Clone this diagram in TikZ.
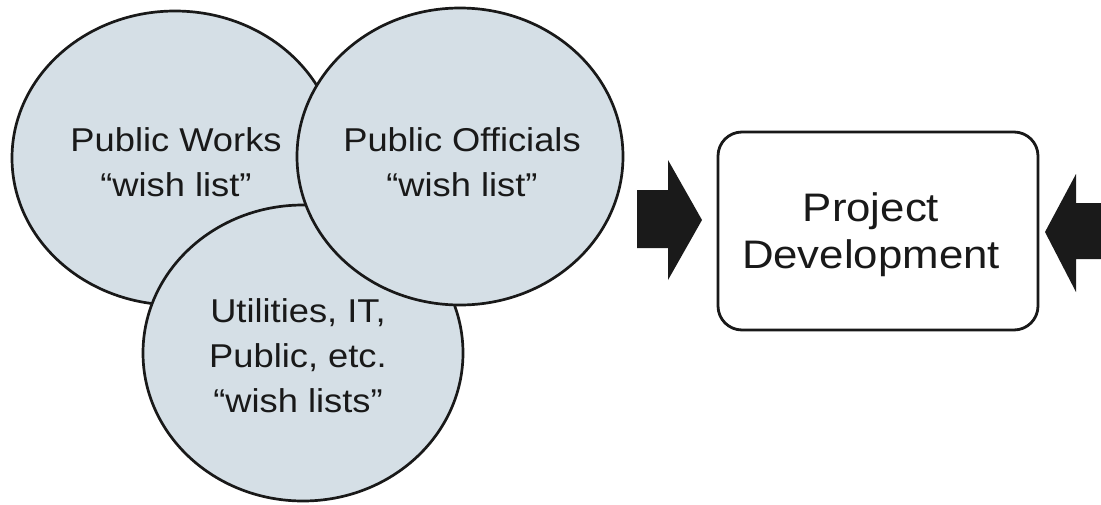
\documentclass[tikz,border=0pt]{standalone}
\usepackage{fontspec}
\setmainfont{Liberation Sans}
\usetikzlibrary{shapes.geometric}
\definecolor{bubblefill}{RGB}{213,223,230}
\definecolor{arrowfill}{RGB}{26,26,26}
\newcommand\sx[1]{\scalebox{1.1}[1]{#1}}
\begin{document}
\begin{tikzpicture}[x=1pt,y=-1pt,
  bubble/.style={ellipse, draw=black!90, line width=2.7pt, fill=bubblefill, inner sep=0pt},
  wish/.style={align=center, inner sep=0pt, text=black!90, font=\fontsize{33}{45}\selectfont},
  projbox/.style={rectangle, rounded corners=24pt, draw=black!90, line width=2.8pt, fill=white, inner sep=0pt, minimum width=320pt, minimum height=198pt},
  projtext/.style={align=center, inner sep=0pt, text=black!90, font=\fontsize{39.8}{47}\selectfont},
  blockarrow/.style={fill=arrowfill}]
\fill[white] (0,0) rectangle (1101,504);
\useasboundingbox (0,0) rectangle (1101,504);
% circles (drawing order: 1, 3, 2)
\node[bubble, minimum width=326pt, minimum height=294pt] (pw) at (175,158) {};
\node[bubble, minimum width=320pt, minimum height=296pt] (ut) at (303,353) {};
\node[bubble, minimum width=326pt, minimum height=297pt] (po) at (460,156.5) {};
% texts
\node[wish] (pwtext) at (176,162.5) {\sx{Public Works}\\\sx{“wish list”}};
\node[wish] (potext) at (462,162.5) {\sx{Public Officials}\\\sx{“wish list”}};
\node[wish] (uttext) at (298,355.5) {\sx{Utilities, IT,}\\\sx{Public, etc.}\\\sx{“wish lists”}};
% box
\node[projbox] (pd) at (878,231) {};
\node[projtext] (pdtext) at (871,234.4) {\sx{Project}\\\sx{Development}};
% block arrows
\coordinate (rtip) at (702,220);
\coordinate (ltip) at (1045,232);
\fill[blockarrow] (637,190) -- (668,190) -- (668,160) -- (rtip) -- (668,280) -- (668,248) -- (637,248) -- cycle;
\fill[blockarrow] (1101,203) -- (1076,203) -- (1076,174) -- (ltip) -- (1076,292) -- (1076,259) -- (1101,259) -- cycle;
\end{tikzpicture}
\end{document}
